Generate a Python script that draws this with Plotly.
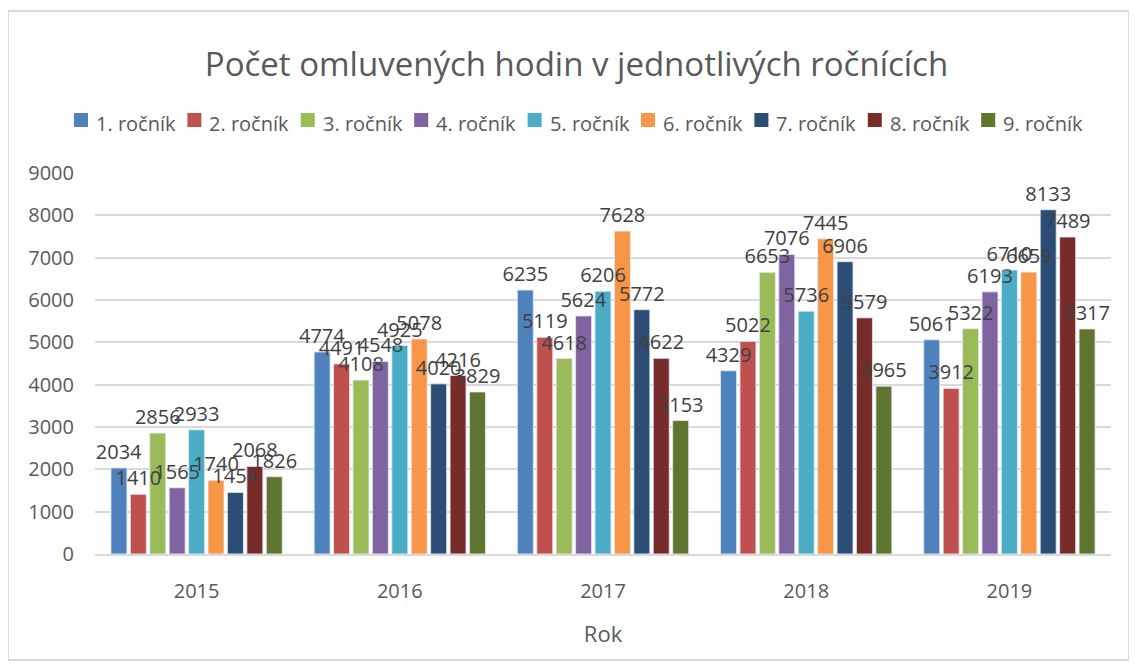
import plotly.graph_objects as go

years = ["2015", "2016", "2017", "2018", "2019"]
series_names = ["1. ročník", "2. ročník", "3. ročník", "4. ročník", "5. ročník",
                "6. ročník", "7. ročník", "8. ročník", "9. ročník"]
r1 = [2034, 4774, 6235, 4329, 5061]
r2 = [1410, 4491, 5119, 5022, 3912]
r3 = [2856, 4108, 4618, 6653, 5322]
r4 = [1565, 4548, 5624, 7076, 6193]
r5 = [2933, 4925, 6206, 5736, 6710]
r6 = [1740, 5078, 7628, 7445, 6659]
r7 = [1454, 4020, 5772, 6906, 8133]
r8 = [2068, 4216, 4622, 5579, 7489]
r9 = [1826, 3829, 3153, 3965, 5317]
values = [r1, r2, r3, r4, r5, r6, r7, r8, r9]
colors = ["#4F81BD", "#C0504D", "#9BBB59", "#8064A2", "#4BACC6",
          "#F79646", "#2C4D75", "#772C2A", "#5F7530"]

FONT = "Open Sans"
fig = go.Figure()
for i, (name, vals, col) in enumerate(zip(series_names, values, colors)):
    fig.add_trace(go.Bar(
        x=years, y=vals, name=name, marker_color=col, offsetgroup=str(i),
        showlegend=False,
    ))
# label layer drawn on top of all bars (same offset groups, transparent fill)
for i, (name, vals) in enumerate(zip(series_names, values)):
    fig.add_trace(go.Bar(
        x=years, y=vals, name=name, offsetgroup=str(i), showlegend=False,
        marker=dict(color="rgba(0,0,0,0)"), hoverinfo="skip",
        text=[str(v) for v in vals], textposition="outside",
        textfont=dict(size=20, color="#404040", family=FONT),
        constraintext="none", cliponaxis=False,
    ))

# page body has an 8px default margin; margins compensate so the plot area lands at x 95..1111, y 173..554
PX0, PW, PY0, PH = 95, 1016, 554, 381
def px(x):
    return (x - PX0) / PW
def py(y):
    return (PY0 - y) / PH

fig.update_layout(
    width=1137, height=666,
    margin=dict(l=87, r=34, t=165, b=120),
    paper_bgcolor="white", plot_bgcolor="white",
    barmode="group", bargap=0.14, bargroupgap=0.175,
    title=dict(text="Počet omluvených hodin v jednotlivých ročnících",
               x=0.5, xanchor="center", y=1 - 56 / 666, yanchor="middle",
               font=dict(size=33, color="#595959", family=FONT)),
    font=dict(family=FONT, color="#595959"),
    showlegend=False,
)
fig.update_xaxes(title=dict(text="Rok", font=dict(size=22, color="#595959"), standoff=24),
                 tickfont=dict(size=20, color="#595959"), ticklabelstandoff=18,
                 showline=True, linecolor="#D9D9D9", linewidth=2, ticks="")
fig.update_yaxes(range=[0, 9000], dtick=1000, tickfont=dict(size=20, color="#595959"),
                 gridcolor="#D9D9D9", gridwidth=1.5, zeroline=False, ticks="",
                 ticklabelstandoff=20)

# outer chart border
fig.add_shape(type="rect", xref="paper", yref="paper",
              x0=px(8), x1=px(1129), y0=py(660), y1=py(11),
              line=dict(color="#D9D9D9", width=2), fillcolor="rgba(0,0,0,0)",
              layer="below")

# legend (one row, swatch + label)
LEG_X0, LEG_PITCH, SW = 74, 113.4, 14
for i, (name, col) in enumerate(zip(series_names, colors)):
    sx = LEG_X0 + i * LEG_PITCH
    fig.add_shape(type="rect", xref="paper", yref="paper",
                  x0=px(sx), x1=px(sx + SW), y0=py(127), y1=py(113),
                  line=dict(width=0), fillcolor=col)
    fig.add_annotation(xref="paper", yref="paper", x=px(sx + SW + 6), y=py(123),
                       text=name, showarrow=False, xanchor="left", yanchor="middle",
                       font=dict(size=20, color="#595959", family=FONT))
fig.write_html("out.html")
